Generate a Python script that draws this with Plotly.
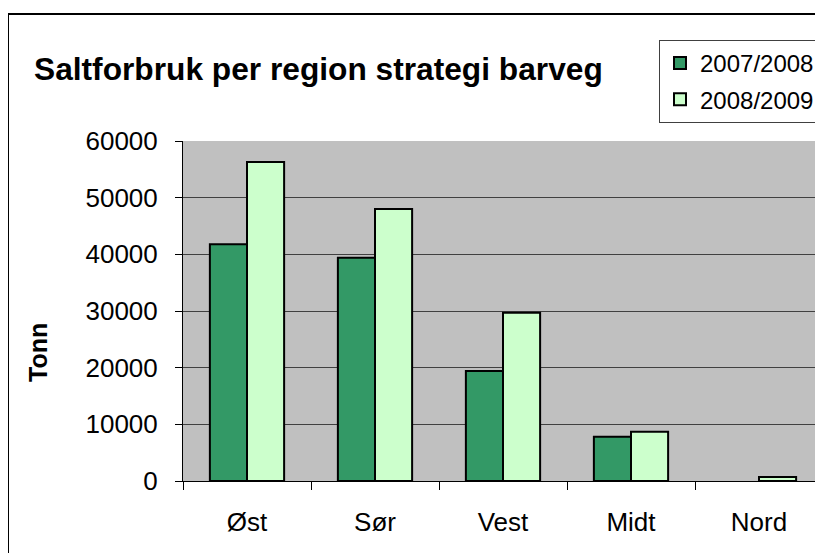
import plotly.graph_objects as go

categories = ["Øst", "Sør", "Vest", "Midt", "Nord"]
series_names = ["2007/2008", "2008/2009"]
values_2007_2008 = [41800, 39400, 19400, 7800, None]
values_2008_2009 = [56300, 48000, 29700, 8700, 700]
y_ticks = [0, 10000, 20000, 30000, 40000, 50000, 60000]
colors = ["#339966", "#CCFFCC"]

# page body has an 8px margin, so work in shifted coordinates
OFF = 8
W, H = 823 - OFF, 553 - OFF
L, T = 183 - OFF, 141 - OFF
pw, ph = 640, 340
R = W - L - pw
B = H - T - ph

def px_x(p):
    return (p - OFF - L) / pw

def px_y(p):
    return (T + ph - (p - OFF)) / ph

fig = go.Figure()
for name, vals, col in zip(series_names, [values_2007_2008, values_2008_2009], colors):
    fig.add_trace(go.Bar(
        x=categories, y=vals, name=name, legendgroup=name,
        marker=dict(color=col, line=dict(color="black", width=2)),
    ))

font = "Liberation Sans, Arial, sans-serif"
fig.update_layout(
    width=W, height=H,
    margin=dict(l=L, r=R, t=T, b=B, pad=0),
    paper_bgcolor="white",
    plot_bgcolor="#C0C0C0",
    barmode="group",
    bargap=0.42,
    bargroupgap=0,
    font=dict(family=font, size=24, color="black"),
    showlegend=True,
    legend=dict(
        x=px_x(659), y=px_y(40), xanchor="left", yanchor="top",
        bgcolor="white", bordercolor="#404040", borderwidth=1,
        font=dict(size=24, family=font),
        tracegroupgap=2,
        traceorder="grouped",
    ),
    xaxis=dict(
        type="category", range=[-0.5, 4.5],
        tickson="boundaries", ticks="outside", ticklen=8, tickcolor="black", tickwidth=1,
        showline=True, linecolor="black", linewidth=1,
        showgrid=False, ticklabelstandoff=18,
        tickfont=dict(size=26),
        fixedrange=True,
    ),
    yaxis=dict(
        range=[0, 60000], tickvals=y_ticks, ticktext=[str(v) for v in y_ticks],
        ticks="outside", ticklen=7, tickcolor="black", tickwidth=1,
        showline=True, linecolor="black", linewidth=1,
        showgrid=True, gridcolor="#404040", gridwidth=1,
        zeroline=True, zerolinecolor="black", zerolinewidth=1,
        ticklabelstandoff=12,
        tickfont=dict(size=26),
        fixedrange=True,
    ),
    shapes=[dict(
        type="rect", xref="paper", yref="paper",
        x0=px_x(8), y0=px_y(575), x1=px_x(845), y1=px_y(14),
        line=dict(color="black", width=2), fillcolor="rgba(0,0,0,0)", layer="below",
    )],
    annotations=[
        dict(
            text="<b>Saltforbruk per region strategi barveg</b>",
            xref="paper", yref="paper", x=px_x(32), y=px_y(69),
            xanchor="left", yanchor="middle", showarrow=False,
            font=dict(size=31.7, family=font, color="black"),
        ),
        dict(
            text="<b>Tonn</b>",
            xref="paper", yref="paper", x=px_x(38), y=px_y(353),
            xanchor="center", yanchor="middle", showarrow=False, textangle=-90,
            font=dict(size=25, family=font, color="black"),
        ),
    ],
)

fig.write_html("out.html")
